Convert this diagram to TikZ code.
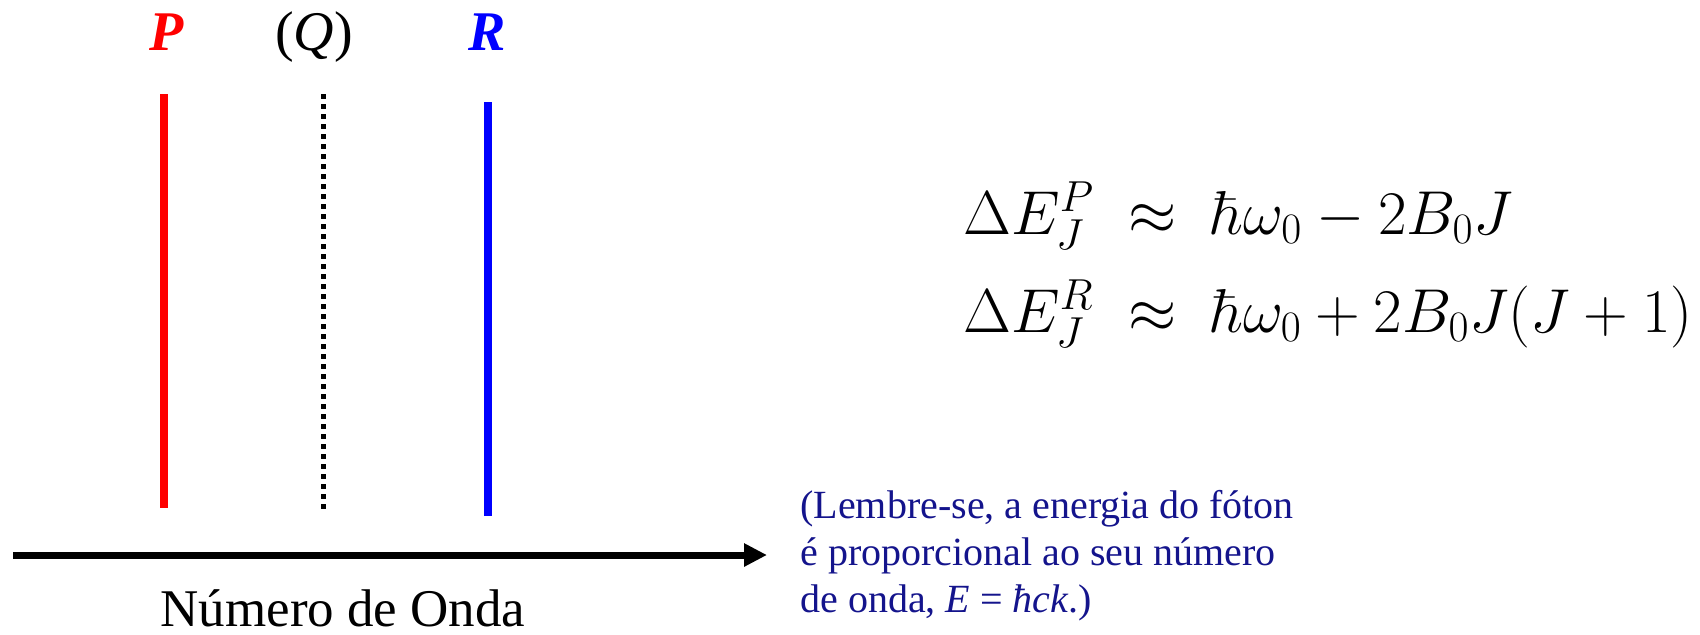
\RequirePackage{fix-cm}
\documentclass[tikz,border=0pt]{standalone}
\usepackage[no-math]{fontspec}
\setmainfont{Liberation Serif}
\usetikzlibrary{arrows.meta}
\definecolor{notenavy}{RGB}{20,20,140}
\begin{document}
\begin{tikzpicture}[
  x=0.5pt, y=-0.5pt,
  branchlabel/.style={anchor=base, inner sep=0, font=\fontsize{28}{30}\selectfont\itshape},
  specline/.style={line width=4pt},
  axis/.style={line width=3.5pt, -{Triangle[length=11.5pt, width=11pt]}},
  axislabel/.style={anchor=base, inner sep=0, font=\fontsize{26.5}{28}\selectfont},
  note/.style={anchor=base west, inner sep=0, align=left, text=notenavy, font=\fontsize{20}{23.5}\selectfont},
  formula/.style={anchor=base west, inner sep=0, font=\fontsize{31}{35}\selectfont}
]
\useasboundingbox (0,0) rectangle (1700,634);
% branch labels
\node[branchlabel, text=red, font=\fontsize{28}{30}\selectfont\bfseries\itshape] (plabel) at (167,50) {P};
\node[branchlabel] (qlabel) at (314,50) {\textup{(}Q\textup{)}};
\node[branchlabel, text=blue, font=\fontsize{28}{30}\selectfont\bfseries\itshape] (rlabel) at (487,50) {R};
% spectral lines
\coordinate (ptop) at (164,94);
\coordinate (pbot) at (164,508);
\coordinate (qtop) at (323,94);
\coordinate (qbot) at (323,510);
\coordinate (rtop) at (488,102);
\coordinate (rbot) at (488,516);
\draw[specline, red] (ptop) -- (pbot);
\draw[line width=2.5pt, dash pattern=on 2.5pt off 2.5pt] (qtop) -- (qbot);
\draw[specline, blue] (rtop) -- (rbot);
% wavenumber axis
\coordinate (axisstart) at (13,555);
\coordinate (axisend) at (767,555);
\draw[axis] (axisstart) -- (axisend);
\node[axislabel] (axisname) at (343,626) {Número de Onda};
\node[note] (reminder) at (800,612) {(Lembre-se, a energia do fóton\\é proporcional ao seu número\\de onda, \textit{E} = \textit{ħck}.)};
% branch energies
\node[formula] (peq) at (963,234) {$\Delta E_J^P \;\approx\; \hbar\omega_0 - 2B_0J$};
\node[formula] (req) at (963,332) {$\Delta E_J^R \;\approx\; \hbar\omega_0 + 2B_0J(J+1)$};
\end{tikzpicture}
\end{document}
